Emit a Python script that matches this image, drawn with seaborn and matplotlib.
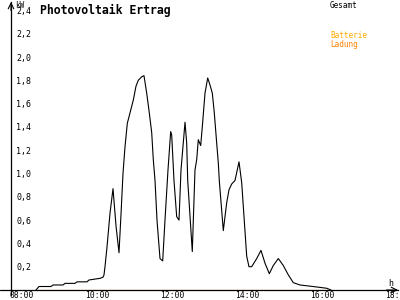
import matplotlib
matplotlib.use("Agg")
import matplotlib.pyplot as plt
import numpy as np
import pandas as pd
import seaborn as sns
from matplotlib.transforms import ScaledTranslation

# ---- data (hours of day, kW) ----
hours = [8.533, 8.613, 8.933, 8.987, 9.253, 9.307, 9.573, 9.627, 9.893, 9.947,
         10.24, 10.32, 10.347, 10.373, 10.427, 10.507, 10.587, 10.667, 10.747, 10.8,
         10.853, 10.907, 10.968, 11.04, 11.128, 11.2, 11.261, 11.352, 11.413, 11.485,
         11.555, 11.619, 11.661, 11.707, 11.76, 11.84, 11.912, 11.973, 12.053, 12.125,
         12.152, 12.213, 12.285, 12.347, 12.4, 12.507, 12.552, 12.579, 12.701, 12.773,
         12.819, 12.861, 12.925, 12.968, 13.04, 13.112, 13.173, 13.235, 13.288, 13.352,
         13.395, 13.421, 13.528, 13.619, 13.68, 13.752, 13.84, 13.947, 14.019, 14.08,
         14.152, 14.213, 14.285, 14.419, 14.533, 14.64, 14.755, 14.861, 14.995, 15.128,
         15.261, 15.395, 15.573, 15.92, 16.285, 16.4]
gesamt_kw = [0.0, 0.03, 0.03, 0.043, 0.043, 0.057, 0.057, 0.07, 0.07, 0.086,
             0.1, 0.11, 0.13, 0.2, 0.37, 0.66, 0.87, 0.55, 0.32, 0.65,
             1.0, 1.23, 1.43, 1.52, 1.63, 1.75, 1.80, 1.83, 1.84, 1.69,
             1.52, 1.35, 1.12, 0.94, 0.6, 0.27, 0.25, 0.6, 1.03, 1.36,
             1.33, 0.94, 0.63, 0.6, 1.03, 1.44, 1.26, 0.94, 0.33, 1.03,
             1.12, 1.29, 1.24, 1.40, 1.69, 1.82, 1.76, 1.69, 1.52, 1.26,
             1.09, 0.94, 0.51, 0.75, 0.86, 0.91, 0.94, 1.10, 0.92, 0.63,
             0.29, 0.2, 0.2, 0.27, 0.34, 0.23, 0.14, 0.21, 0.27, 0.21,
             0.13, 0.063, 0.043, 0.03, 0.015, 0.0]
ladung_kw = [0.0] * len(hours)

x_ticks = [8, 10, 12, 14, 16, 18]
x_tick_labels = ["08:00", "10:00", "12:00", "14:00", "16:00", "18:00"]
y_ticks = [0.2, 0.4, 0.6, 0.8, 1.0, 1.2, 1.4, 1.6, 1.8, 2.0, 2.2, 2.4]
y_tick_labels = ["0,2", "0,4", "0,6", "0,8", "1,0", "1,2", "1,4", "1,6", "1,8", "2,0", "2,2", "2,4"]

sns.set_style("white")
plt.rcParams['font.family'] = ['DejaVu Sans Mono']

W, H = 400, 300
fig = plt.figure(figsize=(4, 3), dpi=100)
ax = fig.add_axes([11 / W, 10 / H, 387 / W, 288 / H])

n = len(hours)
df = pd.DataFrame({
    "Zeit": hours + hours,
    "kW": gesamt_kw + ladung_kw,
    "Serie": ["Gesamt"] * n + ["Ladung"] * n,
})
sns.lineplot(data=df, x="Zeit", y="kW", hue="Serie",
             palette={"Gesamt": "black", "Ladung": "#FF8000"},
             linewidth=0.8, legend=False, ax=ax, estimator=None, sort=False)

px_per_h = 37.5
ax.set_xlim(8 - 5 / px_per_h, 8 + 382 / px_per_h)
ax.set_ylim(0, 288 / 116.5)
ax.set_xlabel("")
ax.set_ylabel("")

for s in ["top", "right"]:
    ax.spines[s].set_visible(False)
for s in ["left", "bottom"]:
    ax.spines[s].set_color("black")
    ax.spines[s].set_linewidth(0.9)

ax.set_xticks(x_ticks)
ax.set_xticklabels(x_tick_labels)
ax.set_yticks(y_ticks)
ax.set_yticklabels(y_tick_labels)
ax.tick_params(axis="x", direction="inout", length=5.5, width=0.8, pad=-2.2,
               labelsize=5.8, colors="black")
ax.tick_params(axis="y", direction="inout", length=4.3, width=0.8, pad=-5.9,
               labelsize=6, colors="black")
for lbl in ax.get_yticklabels():
    lbl.set_horizontalalignment("left")
for lbl in ax.get_xticklabels():
    lbl.set_transform(lbl.get_transform() + ScaledTranslation(6 / 100, 0, fig.dpi_scale_trans))

# axis extensions & arrows
ax.plot([-11 / 387, 0], [0, 0], transform=ax.transAxes, clip_on=False, color="black", lw=0.9)
ax.plot([0, 0], [0, -5 / 288], transform=ax.transAxes, clip_on=False, color="black", lw=0.9)
ax.annotate("", xy=(0, 1.0), xytext=(0, 0.97), xycoords="axes fraction",
            arrowprops=dict(arrowstyle="->", lw=0.8, color="black", shrinkA=0, shrinkB=0))
ax.annotate("", xy=(1.0, 0), xytext=(0.97, 0), xycoords="axes fraction",
            arrowprops=dict(arrowstyle="->", lw=0.8, color="black", shrinkA=0, shrinkB=0))

# texts
fig.text(40 / W, 1 - 10 / H, "Photovoltaik Ertrag", fontsize=8.3, fontweight="bold",
         ha="left", va="center", color="black")
fig.text(15 / W, 1 - 5 / H, "kW", fontsize=5.5, ha="left", va="center", color="black")
fig.text(388 / W, 1 - 284 / H, "h", fontsize=6, ha="left", va="center", color="black")
fig.text(330 / W, 1 - 5 / H, "Gesamt", fontsize=5.5, ha="left", va="center", color="black")
fig.text(330 / W, 1 - 36 / H, "Batterie", fontsize=5.5, ha="left", va="center", color="#FFAA00")
fig.text(330 / W, 1 - 44 / H, "Ladung", fontsize=5.5, ha="left", va="center", color="#FF8000")

fig.savefig("out.png", dpi=100)
